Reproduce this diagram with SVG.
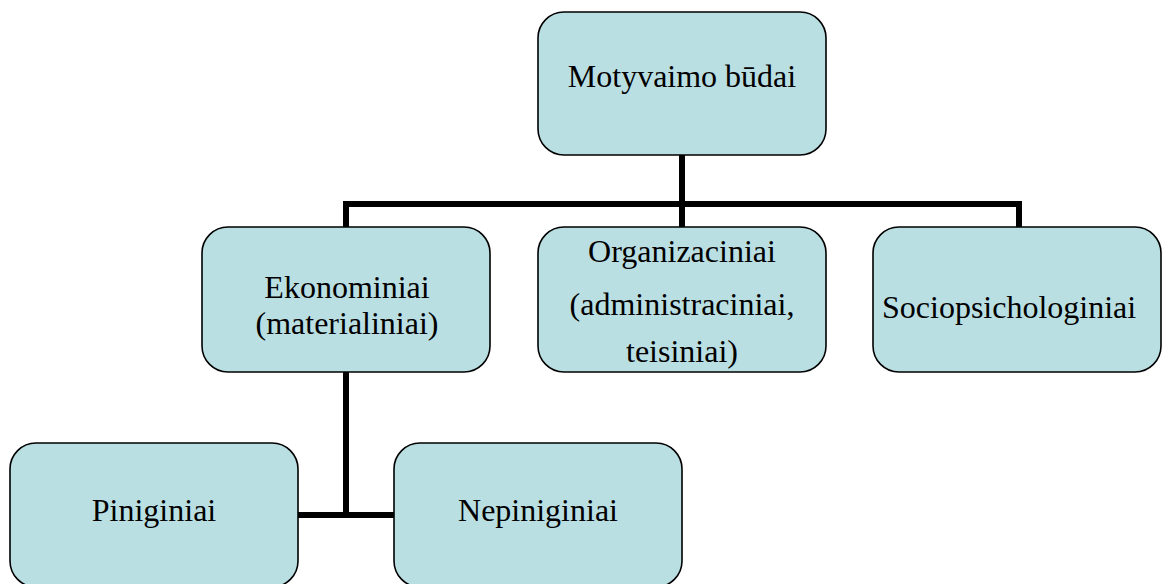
<svg xmlns="http://www.w3.org/2000/svg" width="1168" height="584" viewBox="0 0 1168 584">
<style>
.box{fill:#BADFE3;stroke:#000;stroke-width:1.6}
.lbl{font-family:"Liberation Serif","Times New Roman",serif;font-size:32px;fill:#000}
.c{fill:none;stroke:#000;stroke-width:6;stroke-linecap:butt;stroke-linejoin:miter}
</style>
<rect width="1168" height="584" fill="#fff"/>
<g id="connectors">
<path class="c" d="M682,155 V204"/>
<path class="c" d="M346,227 V204 H1019 V227"/>
<path class="c" d="M682,204 V227"/>
<path class="c" d="M346,372 V518"/>
<path class="c" d="M298,515 H394"/>
</g>
<g id="n-root">
<rect class="box" x="538" y="12" width="288" height="143" rx="26"/>
<text class="lbl" x="682" y="87" text-anchor="middle">Motyvaimo būdai</text>
</g>
<g id="n-eko">
<rect class="box" x="202" y="227" width="288" height="145" rx="26"/>
<text class="lbl" x="347" y="298" text-anchor="middle">Ekonominiai</text>
<text class="lbl" x="347" y="334" text-anchor="middle">(materialiniai)</text>
</g>
<g id="n-org">
<rect class="box" x="538" y="227" width="288" height="145" rx="26"/>
<text class="lbl" x="682" y="262" text-anchor="middle">Organizaciniai</text>
<text class="lbl" x="682" y="315" text-anchor="middle">(administraciniai,</text>
<text class="lbl" x="682" y="362" text-anchor="middle">teisiniai)</text>
</g>
<g id="n-socio">
<rect class="box" x="873" y="227" width="288" height="145" rx="26"/>
<text class="lbl" x="882" y="318">Sociopsichologiniai</text>
</g>
<g id="n-pin">
<rect class="box" x="10" y="443" width="288" height="144" rx="26"/>
<text class="lbl" x="154" y="521" text-anchor="middle">Piniginiai</text>
</g>
<g id="n-nep">
<rect class="box" x="394" y="443" width="288" height="144" rx="26"/>
<text class="lbl" x="538" y="521" text-anchor="middle">Nepiniginiai</text>
</g>
</svg>
